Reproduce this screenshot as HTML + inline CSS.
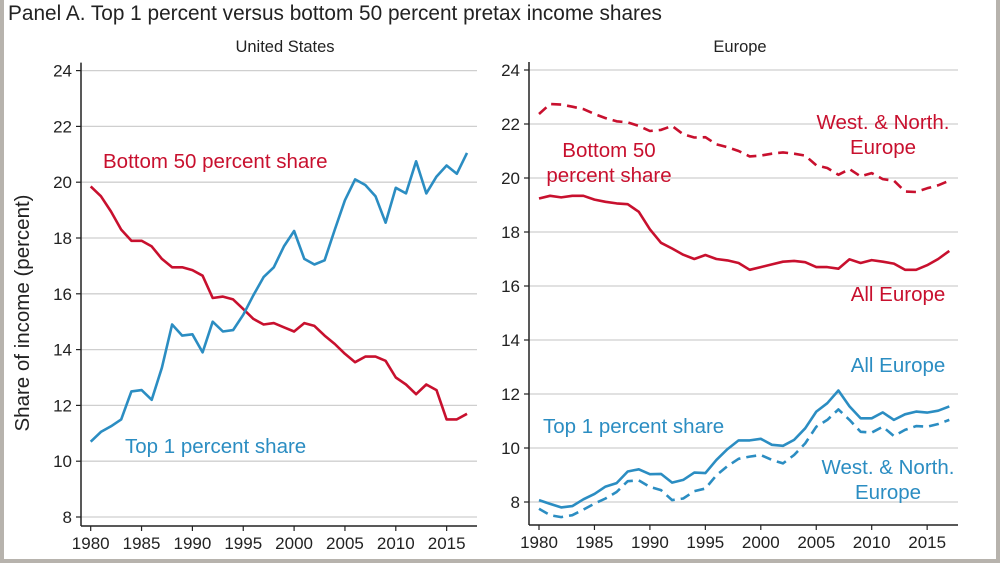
<!DOCTYPE html>
<html><head><meta charset="utf-8"><style>
html,body{margin:0;padding:0;background:#fff}
#f{position:relative;width:992px;height:559px;border:4px solid #b7b3ad;border-top:0;background:#fff;overflow:hidden}
svg{position:absolute;left:-4px;top:0}
text{font-family:"Liberation Sans",sans-serif}
</style></head><body><div id="f">
<svg id="s" width="1000" height="563" xmlns="http://www.w3.org/2000/svg"></svg>
</div>
<script>
var R="#c8102e",B="#2b8dc2";
var s='';
s+='<text x="8" y="20" font-size="20.8" fill="#222">Panel A. Top 1 percent versus bottom 50 percent pretax income shares</text>';
s+='<text x="285" y="52" font-size="16.5" text-anchor="middle" fill="#222">United States</text>';
s+='<text x="740" y="52" font-size="16.5" text-anchor="middle" fill="#222">Europe</text>';
s+='<text transform="translate(29,313) rotate(-90)" font-size="20.5" text-anchor="middle" fill="#222">Share of income (percent)</text>';
function panel(ax,x0,xs,y8,ys,ge,xa){
 for(var v=8;v<=24;v+=2){var y=y8-(v-8)*ys;
  s+='<line x1="'+ax+'" x2="'+ge+'" y1="'+y+'" y2="'+y+'" stroke="#cfcfcf" stroke-width="1.3"/>';
  s+='<line x1="'+(ax-5)+'" x2="'+ax+'" y1="'+y+'" y2="'+y+'" stroke="#222" stroke-width="1.2"/>';
  s+='<text x="'+(ax-9)+'" y="'+(y+6)+'" font-size="17" text-anchor="end" fill="#222">'+v+'</text>';}
 s+='<line x1="'+ax+'" x2="'+ax+'" y1="'+(y8-16*ys-8)+'" y2="'+xa+'" stroke="#222" stroke-width="1.5"/>';
 s+='<line x1="'+ax+'" x2="'+ge+'" y1="'+xa+'" y2="'+xa+'" stroke="#222" stroke-width="1.5"/>';
 for(var yr=1980;yr<=2015;yr+=5){var x=x0+(yr-1980)*xs;
  s+='<line x1="'+x+'" x2="'+x+'" y1="'+xa+'" y2="'+(xa+5)+'" stroke="#222" stroke-width="1.2"/>';
  s+='<text x="'+x+'" y="'+(xa+23)+'" font-size="17" text-anchor="middle" fill="#222">'+yr+'</text>';}
}
function line(d,x0,xs,y8,ys,c,dash){
 var p=d.map(function(v,i){return (x0+i*xs).toFixed(1)+','+(y8-(v-8)*ys).toFixed(1)}).join(' ');
 s+='<polyline points="'+p+'" fill="none" stroke="'+c+'" stroke-width="2.6" stroke-linejoin="round"'+(dash?' stroke-dasharray="10,6"':'')+'/>';
}
panel(81,90.7,10.17,517,27.9,477,526);
panel(529,539,11.09,502,27,958,525);
var usB=[19.85,19.5,18.95,18.3,17.9,17.9,17.7,17.25,16.95,16.95,16.85,16.65,15.85,15.9,15.8,15.45,15.1,14.9,14.95,14.8,14.65,14.95,14.85,14.5,14.2,13.85,13.55,13.75,13.75,13.6,13.0,12.75,12.4,12.75,12.55,11.5,11.5,11.7];
var usT=[10.7,11.05,11.25,11.5,12.5,12.55,12.2,13.35,14.9,14.5,14.55,13.9,15.0,14.65,14.7,15.25,15.95,16.6,16.95,17.7,18.25,17.25,17.05,17.2,18.3,19.35,20.1,19.9,19.5,18.55,19.8,19.6,20.75,19.6,20.2,20.6,20.3,21.05];
var eB=[19.24,19.34,19.28,19.34,19.34,19.2,19.12,19.06,19.03,18.75,18.1,17.6,17.39,17.16,17.0,17.15,17.0,16.95,16.85,16.6,16.7,16.8,16.9,16.93,16.88,16.7,16.7,16.64,16.99,16.85,16.96,16.9,16.83,16.6,16.6,16.77,17.0,17.3];
var eBd=[22.37,22.74,22.72,22.64,22.55,22.37,22.22,22.1,22.06,21.93,21.74,21.78,21.93,21.62,21.5,21.51,21.25,21.14,21.0,20.8,20.83,20.9,20.95,20.9,20.83,20.47,20.37,20.12,20.33,20.06,20.18,19.96,19.9,19.5,19.48,19.62,19.73,19.9];
var eT=[8.07,7.93,7.8,7.85,8.1,8.3,8.57,8.7,9.13,9.21,9.03,9.04,8.72,8.82,9.09,9.07,9.56,9.96,10.28,10.28,10.34,10.12,10.08,10.3,10.73,11.35,11.66,12.13,11.54,11.1,11.1,11.32,11.04,11.25,11.35,11.31,11.38,11.54];
var eTd=[7.75,7.51,7.44,7.51,7.72,7.94,8.13,8.37,8.77,8.8,8.56,8.44,8.07,8.13,8.4,8.5,8.99,9.33,9.6,9.68,9.74,9.56,9.43,9.74,10.17,10.79,11.04,11.43,11.04,10.6,10.57,10.79,10.44,10.67,10.81,10.79,10.89,11.04];
line(usB,90.7,10.17,517,27.9,R);
line(usT,90.7,10.17,517,27.9,B);
line(eBd,539,11.09,502,27,R,1);
line(eB,539,11.09,502,27,R);
line(eTd,539,11.09,502,27,B,1);
line(eT,539,11.09,502,27,B);
function t(x,y,str,c,a){s+='<text x="'+x+'" y="'+y+'" font-size="20.5" fill="'+c+'"'+(a?' text-anchor="middle"':'')+'>'+str+'</text>';}
t(103,168,'Bottom 50 percent share',R);
t(125,453,'Top 1 percent share',B);
t(883,129,'West. &amp; North.',R,1);t(883,154,'Europe',R,1);
t(609,157,'Bottom 50',R,1);t(609,182,'percent share',R,1);
t(898,301,'All Europe',R,1);
t(898,372,'All Europe',B,1);
t(543,433,'Top 1 percent share',B);
t(888,474,'West. &amp; North.',B,1);t(888,499,'Europe',B,1);
document.getElementById('s').innerHTML=s;
</script>
</body></html>
